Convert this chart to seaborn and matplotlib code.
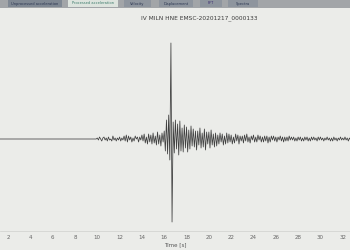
import numpy as np
import pandas as pd
import matplotlib
matplotlib.use("Agg")
import matplotlib.pyplot as plt
from matplotlib.patches import Rectangle
import seaborn as sns

# ---- data ----
title_text = "IV MILN HNE EMSC-20201217_0000133"
tab_labels = ["Unprocessed acceleration", "Processed acceleration", "Velocity",
              "Displacement", "FFT", "Spectra"]
x_ticks = [2, 4, 6, 8, 10, 12, 14, 16, 18, 20, 22, 24, 26, 28, 30, 32]
x_label = "Time [s]"

pre_time = [1.2, 9.9]
pre_amp = [0, 0]

event_start = 10.0
sample_interval = 0.1
event_amp = [
    1, -1, 2, 0, -2, 1, 2, -1, 1, -2,
    2, -1, 0, -2, 3, -1, 1, -2, 1, -1,
    2, -2, 1, -1, 3, -2, 4, -3, 3, -1,
    2, -3, 1, -2, 3, 0, 2, -3, 2, -1,
    4, -2, 5, -4, 2, -5, 5, -3, 4, -5,
    6, -4, 3, -6, 7, -5, 4, -7, 6, -3,
    8, -12, 19, -15, 24, -21, 96, -83, 17, -14,
    19, -10, 15, -16, 18, -12, 11, -13, 14, -9,
    12, -13, 9, -10, 13, -7, 10, -8, 8, -11,
    8, -6, 11, -9, 6, -8, 10, -11, 7, -5,
    7, -9, 9, -6, 5, -8, 6, -7, 4, -5,
    6, -3, 5, -6, 3, -5, 6, -4, 5, -3,
    4, -5, 2, -4, 5, -2, 4, -5, 3, -2,
    3, -4, 4, -2, 5, -3, 2, -4, 3, -1,
    4, -3, 2, -3, 4, -1, 3, -3, 2, -3,
    3, -2, 3, -4, 2, -3, 3, -1, 3, -2,
    2, -3, 2, -1, 3, -2, 2, -3, 2, -2,
    2, -2, 3, -1, 2, -1, 2, -2, 1, -2,
    2, -1, 2, -2, 1, -2, 2, -1, 2, -2,
    1, -2, 2, -1, 2, -1, 1, -2, 2, -1,
    2, -1, 1, -2, 1, -1, 2, -1, 1, -2,
    1, -2, 2, -1, 1, -2, 1, -1, 2, -1,
    1, -1, 2, -1, 1, -2, 1, -1,
]

event_time = event_start + sample_interval * np.arange(len(event_amp))
df = pd.DataFrame({
    "t": np.concatenate([pre_time, event_time]),
    "amp": np.concatenate([pre_amp, event_amp]),
})

# ---- style ----
bg = "#ebece9"
sns.set_theme(style="white")
plt.rcParams["font.family"] = ["DejaVu Sans"]

fig = plt.figure(figsize=(3.5, 2.5), dpi=100, facecolor=bg)
ax = fig.add_axes([0.0, 0.076, 1.0, 0.812], facecolor=bg)

sns.lineplot(data=df, x="t", y="amp", ax=ax, estimator=None, sort=False,
             color="#404040", linewidth=0.55)

ax.set_xlim(1.28, 32.65)
ax.set_ylim(-92, 111)
ax.set_xticks(x_ticks)
ax.set_xticklabels([str(v) for v in x_ticks])
ax.tick_params(axis="x", labelsize=4, colors="#666666", length=1.5, width=0.4, pad=1.5)
ax.set_yticks([])
ax.set_xlabel(x_label, fontsize=4, color="#555555", labelpad=1.5)
ax.set_ylabel("")
for side in ["left", "right", "top"]:
    ax.spines[side].set_visible(False)
ax.spines["bottom"].set_color("#cfd0cd")
ax.spines["bottom"].set_linewidth(0.5)

fig.text(0.569, 0.928, title_text, fontsize=4.2, color="#3a3a3a",
         ha="center", va="center")

# tab bar
fig.patches.append(Rectangle((0, 0.968), 1, 0.032, transform=fig.transFigure,
                             facecolor="#a2a5a8", edgecolor="none"))
tab_spans = [(8, 62), (68, 118), (124, 151), (159, 193), (200, 222), (228, 258)]
tab_faces = ["#7f8893", "#dde4de", "#8e959e", "#8e959e", "#8e959e", "#8e959e"]
tab_text_colors = ["#2a3550", "#3a7a6a", "#2a3550", "#2a3550", "#3a2a70", "#2a3550"]
for (x0, x1), fc, tc, lab in zip(tab_spans, tab_faces, tab_text_colors, tab_labels):
    fig.patches.append(Rectangle((x0 / 350, 0.972), (x1 - x0) / 350, 0.028,
                                 transform=fig.transFigure, facecolor=fc,
                                 edgecolor="none"))
    fig.text((x0 + x1) / 700, 0.986, lab, fontsize=2.6, color=tc,
             ha="center", va="center")

fig.savefig("out.png", dpi=100, facecolor=bg)
